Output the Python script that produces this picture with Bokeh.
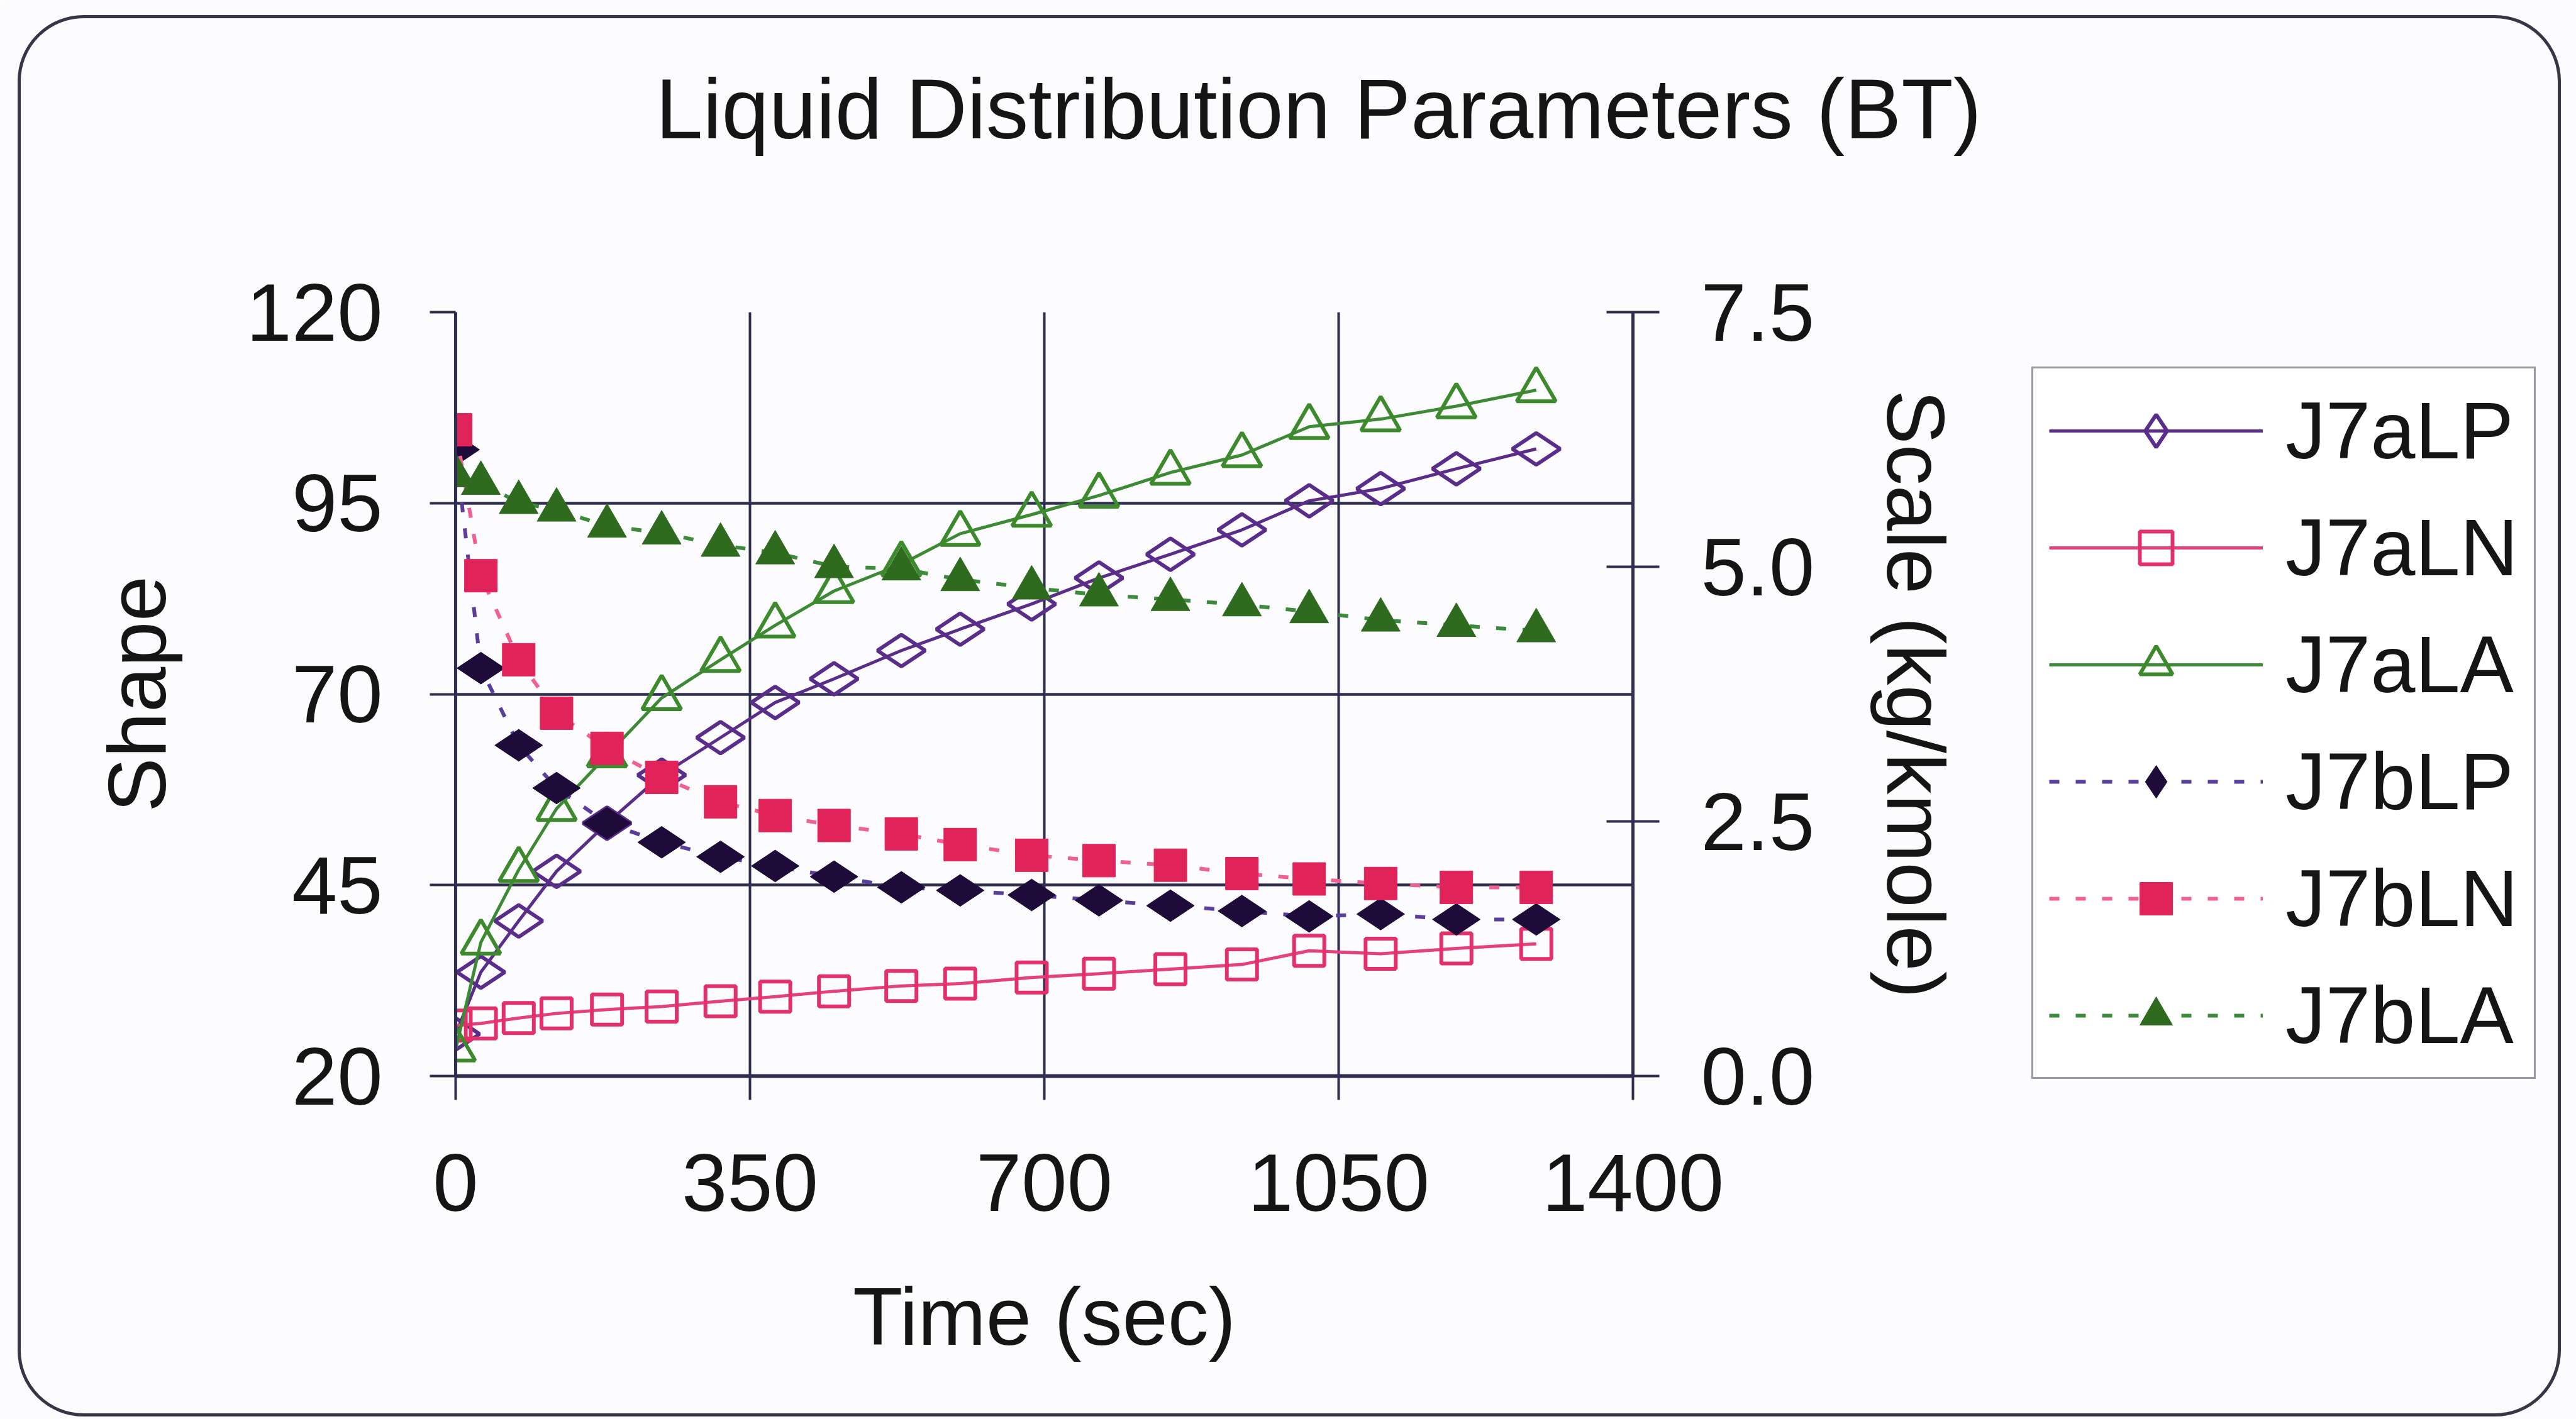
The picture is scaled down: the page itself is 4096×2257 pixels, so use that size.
import math
from bokeh.plotting import figure
from bokeh.models import (Range1d, LinearAxis, FixedTicker, NumeralTickFormatter,
                          Legend, LegendItem, Title)
from bokeh.embed import file_html
from bokeh.resources import INLINE

# ---------------- data ----------------
time_sec = [0, 30, 75, 120, 180, 245, 315, 380, 450, 530, 600, 685, 765, 850, 935, 1015, 1100, 1190, 1285]
j7aLP = [25.5, 33.6, 40.3, 46.8, 53.1, 59.4, 64.3, 68.9, 72.0, 75.7, 78.5, 81.8, 85.2, 88.3, 91.5, 95.3, 96.9, 99.5, 102.1]
j7aLN = [26.6, 26.9, 27.6, 28.2, 28.7, 29.1, 29.8, 30.4, 31.1, 31.8, 32.1, 32.9, 33.4, 34.0, 34.6, 36.4, 36.0, 36.7, 37.3]
j7aLA = [23.5, 37.5, 47.0, 55.0, 62.0, 69.5, 74.5, 79.0, 83.5, 87.0, 91.0, 93.5, 96.0, 99.0, 101.3, 105.0, 106.0, 107.7, 109.8]
j7bLP = [102.0, 73.4, 63.3, 57.7, 53.1, 50.6, 48.7, 47.5, 46.1, 44.7, 44.3, 43.7, 43.0, 42.3, 41.6, 40.9, 41.2, 40.5, 40.5]
j7bLN = [104.6, 85.5, 74.5, 67.5, 62.9, 59.1, 55.9, 54.1, 52.8, 51.7, 50.3, 48.9, 48.2, 47.6, 46.5, 45.8, 45.2, 44.7, 44.7]
j7bLA = [98.6, 97.6, 95.1, 94.1, 92.0, 91.1, 89.5, 88.5, 86.7, 86.4, 85.0, 83.9, 83.0, 82.4, 81.7, 80.8, 79.7, 79.0, 78.3]

x_ticks = [0, 350, 700, 1050, 1400]
shape_ticks = [20, 45, 70, 95, 120]
scale_ticks = [0.0, 2.5, 5.0, 7.5]

title_text = "Liquid Distribution Parameters (BT)"
x_label = "Time (sec)"
y_label = "Shape"
y2_label = "Scale (kg/kmole)"

# ---------------- layout ----------------
W, H = 4096, 2257
ML, MR, MT, MB = 724, 1500, 496, 546

BG = "#fcfcff"
INK = "#151515"
GRID = "#2e2e50"
FONT = "Liberation Sans"
FS = "130px"

border_css = """
:host { position: relative; }
:host::after {
  content: ""; position: absolute; left: 28px; top: 24px;
  width: 4034px; height: 2219px; box-sizing: content-box;
  border: 5px solid #3a3446; border-radius: 105px;
  pointer-events: none; z-index: 10;
}
"""

p = figure(width=W, height=H, output_backend="svg", toolbar_location=None,
           x_range=Range1d(0, 1400), y_range=Range1d(20, 120),
           min_border_left=ML, min_border_right=MR, min_border_top=MT, min_border_bottom=MB,
           background_fill_color=BG, border_fill_color=BG, outline_line_color=None,
           stylesheets=[border_css])

p.extra_y_ranges = {"scale": Range1d(0, 7.5)}

# invisible spacer next to the plot area (top side): one hidden tick, no text
spacer = LinearAxis(ticker=FixedTicker(ticks=[700]), axis_line_color=None,
                    major_tick_line_color=None, minor_tick_line_color=None,
                    major_label_overrides={700: ""}, major_label_text_font_size="1px",
                    major_label_text_alpha=0.0,
                    major_tick_in=0, major_tick_out=236, major_label_standoff=2,
                    minor_tick_out=0, minor_tick_in=0)
p.add_layout(spacer, "above")

# title (outermost in the top panel)
p.add_layout(Title(text=title_text, align="left", offset=318, vertical_align="top",
                   standoff=20, text_font=FONT, text_font_size="135px",
                   text_font_style="normal", text_color=INK), "above")

# grids
p.xgrid.ticker = FixedTicker(ticks=[350, 700, 1050])
p.ygrid.ticker = FixedTicker(ticks=[45, 70, 95, 120])
p.xgrid.grid_line_color = GRID
p.ygrid.grid_line_color = GRID
p.xgrid.grid_line_width = 4
p.ygrid.grid_line_width = 4.5

def style_axis(ax):
    ax.axis_line_color = GRID
    ax.major_tick_line_color = GRID
    ax.minor_tick_line_color = None
    ax.major_tick_line_width = 4
    ax.major_label_text_font = FONT
    ax.major_label_text_font_size = FS
    ax.major_label_text_color = INK
    ax.axis_label_text_font = FONT
    ax.axis_label_text_font_size = FS
    ax.axis_label_text_font_style = "normal"
    ax.axis_label_text_color = INK

xa = p.below[0]
style_axis(xa)
xa.ticker = FixedTicker(ticks=x_ticks)
xa.axis_line_width = 6
xa.major_tick_in = 0
xa.major_tick_out = 38
xa.major_label_standoff = 86
xa.axis_label = x_label
xa.axis_label_standoff = 92

ya = p.left[0]
style_axis(ya)
ya.ticker = FixedTicker(ticks=shape_ticks)
ya.axis_line_width = 5
ya.major_tick_in = 0
ya.major_tick_out = 41
ya.major_label_standoff = 75
ya.axis_label = y_label
ya.axis_label_standoff = 98

y2 = LinearAxis(y_range_name="scale", ticker=FixedTicker(ticks=scale_ticks),
                formatter=NumeralTickFormatter(format="0.0"))
style_axis(y2)
y2.axis_line_width = 5
y2.major_tick_in = 42
y2.major_tick_out = 42
y2.major_label_standoff = 66
y2.axis_label = y2_label
y2.axis_label_standoff = 85
p.add_layout(y2, "right")

# ---------------- series ----------------
series = [
    ("J7aLP", j7aLP, "#5a2d8a", "#5a2d8a", "diamond", False, 76, None),
    ("J7aLN", j7aLN, "#e6407a", "#e2306a", "square", False, 48, None),
    ("J7aLA", j7aLA, "#3d8a35", "#3d8a2d", "triangle", False, 62, None),
    ("J7bLP", j7bLP, "#5b3d9e", "#1f0b3a", "diamond", True, 76, "16 26"),
    ("J7bLN", j7bLN, "#f06090", "#e0245a", "square", True, 52, "16 26"),
    ("J7bLA", j7bLA, "#3d8a3d", "#2f6b1f", "triangle", True, 62, "16 26"),
]

items = []
for name, ys, lcol, mcol, marker, filled, size, dash in series:
    if dash is None:
        lr = p.line(time_sec, ys, line_color=lcol, line_width=5)
    else:
        lr = p.line(time_sec, ys, line_color=lcol, line_width=6, line_dash=dash)
    angle = math.pi / 2 if marker == "diamond" else 0.0
    sr = p.scatter(time_sec, ys, marker=marker, size=size, angle=angle,
                   line_color=mcol, line_width=6 if not filled else 1,
                   fill_color=mcol if filled else None,
                   fill_alpha=1.0 if filled else 0.0)
    items.append(LegendItem(label=name, renderers=[lr, sr]))

# ---------------- legend (right panel) ----------------
legend = Legend(items=items, location=(22, -5),
                label_text_font=FONT, label_text_font_size="128px", label_text_color=INK,
                glyph_width=340, glyph_height=130, label_standoff=36, spacing=39,
                padding=25, margin=0, label_width=370,
                border_line_color="#33334a", border_line_width=3,
                background_fill_color="#ffffff", background_fill_alpha=1.0)
p.add_layout(legend, "right")

open("out.html", "w").write(file_html(p, INLINE))
